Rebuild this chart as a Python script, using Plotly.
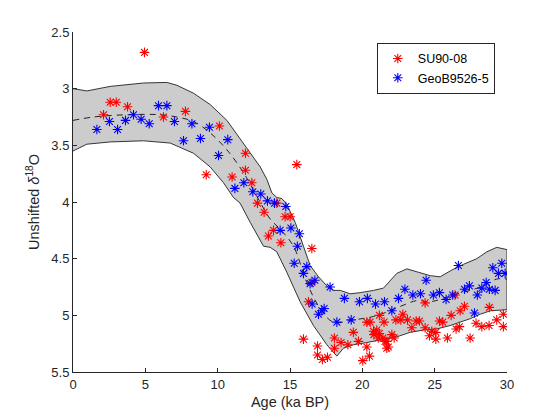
import plotly.graph_objects as go

# ---- band (uncertainty envelope) ----
band_upper_age = [0, 0.96, 2.57, 4.87, 6.49, 7.18, 8.33, 9.48, 10.64, 11.78, 12.47, 12.94, 13.4, 13.75, 14.09, 14.44,
                  14.78, 15.36, 15.93, 16.39, 16.97, 17.55, 18.0, 18.47, 19.16, 19.85, 20.77, 21.46, 22.38, 23.08,
                  23.88, 24.69, 25.38, 26.19, 26.99, 27.91, 28.6, 29.29, 30.0]
band_upper = [3.00, 3.02, 2.98, 2.95, 2.945, 2.97, 3.04, 3.14, 3.28, 3.48, 3.60, 3.69, 3.80, 3.92, 3.96, 3.97,
              4.02, 4.18, 4.39, 4.56, 4.66, 4.74, 4.78, 4.78, 4.81, 4.80, 4.78, 4.76, 4.63, 4.59,
              4.62, 4.65, 4.66, 4.60, 4.55, 4.50, 4.44, 4.40, 4.42]
band_lower_age = [0, 0.96, 2.57, 4.87, 6.72, 8.33, 9.48, 10.4, 11.09, 11.55, 12.25, 13.17, 13.63, 14.09, 14.78,
                  15.7, 16.62, 17.55, 18.24, 18.69, 19.38, 20.31, 21.23, 21.92, 22.38, 23.3, 24.22, 25.15,
                  26.07, 26.76, 27.45, 28.15, 28.84, 30.0]
band_lower = [3.55, 3.49, 3.47, 3.46, 3.48, 3.57, 3.69, 3.83, 3.96, 4.01, 4.18, 4.39, 4.40, 4.44, 4.62,
              4.88, 5.09, 5.26, 5.36, 5.29, 5.26, 5.24, 5.22, 5.20, 5.19, 5.15, 5.13, 5.12,
              5.09, 5.06, 5.03, 4.99, 4.96, 4.95]

# ---- mean (dashed) ----
mean_age = [0, 1.42, 3.72, 6.03, 7.18, 8.33, 9.48, 10.64, 11.78, 12.71, 13.63, 14.32, 15.24, 16.16, 17.08,
            18.0, 19.38, 20.77, 21.92, 22.84, 23.77, 24.69, 25.6, 26.53, 27.45, 28.37, 29.29, 30.0]
mean_d18O = [3.28, 3.25, 3.23, 3.23, 3.25, 3.29, 3.39, 3.54, 3.74, 3.95, 4.15, 4.24, 4.39, 4.71, 4.94,
             5.06, 5.04, 5.01, 4.96, 4.91, 4.87, 4.88, 4.85, 4.81, 4.78, 4.74, 4.68, 4.68]

# ---- SU90-08 ----
su_age = [2.11, 2.57, 2.99, 3.77, 4.94, 6.25, 7.77, 9.21, 10.12, 11.0, 11.92, 11.92, 12.36, 12.75, 13.21, 14.09,
          13.86, 13.51, 14.37, 14.66, 15.01, 15.47, 16.51, 16.51, 16.28, 15.93, 16.9, 16.9, 17.24, 17.59, 18.07,
          18.07, 18.53, 19.0, 19.38, 19.73, 20.03, 20.31, 20.49, 20.31, 20.54, 20.77, 21.0, 21.18, 21.18, 21.5,
          21.69, 21.42, 21.69, 20.8, 21.1, 21.57, 21.8, 22.04, 22.2, 22.32, 22.8, 22.66, 23.12, 23.42, 23.72,
          23.95, 24.34, 24.34, 24.64, 24.8, 25.08, 25.08, 25.33, 25.56, 25.88, 26.14, 26.41, 26.48, 26.71, 26.76,
          27.06, 27.45, 27.86, 28.26, 28.76, 28.78, 29.29, 29.75, 29.75]
su_d18O = [3.23, 3.12, 3.12, 3.16, 2.68, 3.25, 3.20, 3.76, 3.33, 3.78, 3.57, 3.72, 3.83, 4.01, 4.09, 4.01,
           4.25, 4.30, 4.36, 4.13, 4.13, 3.67, 4.41, 4.71, 4.88, 5.21, 5.27, 5.35, 5.39, 5.37, 5.20,
           5.29, 5.24, 5.26, 5.15, 5.23, 5.40, 5.28, 5.36, 5.06, 5.06, 5.14, 5.13, 5.16, 5.00, 5.06,
           5.23, 5.20, 5.29, 5.17, 5.20, 5.23, 5.28, 5.17, 5.20, 5.04, 4.99, 5.04, 5.04, 5.11, 5.05,
           5.05, 5.11, 4.89, 5.18, 5.14, 5.15, 5.21, 5.05, 5.06, 5.20, 5.00, 4.82, 5.12, 5.10, 4.96,
           4.92, 5.20, 5.07, 5.10, 5.09, 4.93, 5.04, 4.99, 5.10]

# ---- GeoB9526-5 ----
geob_age = [1.65, 2.52, 3.08, 3.63, 4.18, 4.71, 5.27, 5.91, 6.49, 7.01, 7.64, 8.22, 8.81, 9.43, 10.06, 10.7,
            11.19, 11.81, 12.43, 12.98, 13.44, 13.93, 14.71, 14.32, 15.06, 15.65, 15.51, 15.29, 16.16, 15.93,
            16.39, 16.72, 16.53, 17.36, 17.2, 16.97, 17.77, 18.24, 18.76, 19.23, 19.8, 20.35, 20.91, 21.53,
            22.04, 22.5, 22.94, 23.49, 24.02, 24.41, 24.91, 25.33, 25.79, 26.25, 26.64, 27.06, 27.4, 27.75,
            27.95, 28.26, 28.56, 28.78, 29.02, 29.18, 29.41, 29.64, 29.87]
geob_d18O = [3.36, 3.29, 3.36, 3.28, 3.23, 3.27, 3.31, 3.15, 3.15, 3.29, 3.46, 3.31, 3.44, 3.34, 3.59, 3.45,
             3.88, 3.83, 3.91, 3.93, 3.99, 4.01, 4.04, 4.25, 4.23, 4.28, 4.39, 4.54, 4.57, 4.63,
             4.72, 4.69, 4.90, 4.94, 4.96, 4.99, 4.75, 5.06, 4.85, 5.04, 4.88, 4.85, 4.90, 4.88,
             4.96, 4.85, 4.77, 4.82, 4.81, 4.69, 4.82, 4.80, 4.86, 4.82, 4.56, 4.77, 4.74, 4.98,
             4.82, 4.76, 4.71, 4.77, 4.58, 4.78, 4.63, 4.54, 4.63]

x_ticks = [0, 5, 10, 15, 20, 25, 30]
y_ticks = [2.5, 3, 3.5, 4, 4.5, 5, 5.5]

FONT = "Liberation Sans, Arial, sans-serif"
AX = "#262626"

fig = go.Figure()
fig.add_trace(go.Scatter(
    x=band_upper_age + band_lower_age[::-1],
    y=band_upper + band_lower[::-1],
    fill="toself", fillcolor="#cccccc", mode="lines",
    line=dict(color="#202020", width=0.9), showlegend=False, hoverinfo="skip"))
fig.add_trace(go.Scatter(
    x=mean_age, y=mean_d18O, mode="lines",
    line=dict(color="#222222", width=1, dash="6px,5px"), showlegend=False, line_shape="spline"))
fig.add_trace(go.Scatter(
    x=su_age, y=su_d18O, mode="markers", name="SU90-08",
    marker=dict(symbol="asterisk-open", size=8, color="red", line=dict(color="red", width=1.1))))
fig.add_trace(go.Scatter(
    x=geob_age, y=geob_d18O, mode="markers", name="GeoB9526-5",
    marker=dict(symbol="asterisk-open", size=8, color="blue", line=dict(color="blue", width=1.1))))

fig.update_layout(
    width=560, height=420,
    margin=dict(l=73, r=53, t=31.5, b=46.2),
    paper_bgcolor="white", plot_bgcolor="white",
    font=dict(family=FONT, size=13, color=AX),
    showlegend=True,
    legend=dict(x=0.7, y=0.968, xanchor="left", yanchor="top",
                bgcolor="white", bordercolor="#262626", borderwidth=1,
                font=dict(family=FONT, size=12.5, color="black"),
                tracegroupgap=0, itemwidth=30),
)
fig.update_xaxes(
    range=[0, 30], tickvals=x_ticks, ticks="inside", ticklen=4, tickcolor=AX,
    showline=True, linecolor=AX, linewidth=1, showgrid=False, zeroline=False,
    title=dict(text="Age (ka BP)", font=dict(size=14.5, color=AX), standoff=6),
    tickfont=dict(size=13, color=AX), mirror=False)
fig.update_yaxes(
    range=[5.5, 2.5], tickvals=y_ticks, ticktext=["2.5", "3", "3.5", "4", "4.5", "5", "5.5"],
    ticks="inside", ticklen=4, tickcolor=AX,
    showline=True, linecolor=AX, linewidth=1, showgrid=False, zeroline=False,
    title=dict(text="Unshifted <i>δ</i><sup>18</sup>O", font=dict(size=14.5, color=AX), standoff=8),
    tickfont=dict(size=13, color=AX), mirror=False)

fig.write_html("out.html")
